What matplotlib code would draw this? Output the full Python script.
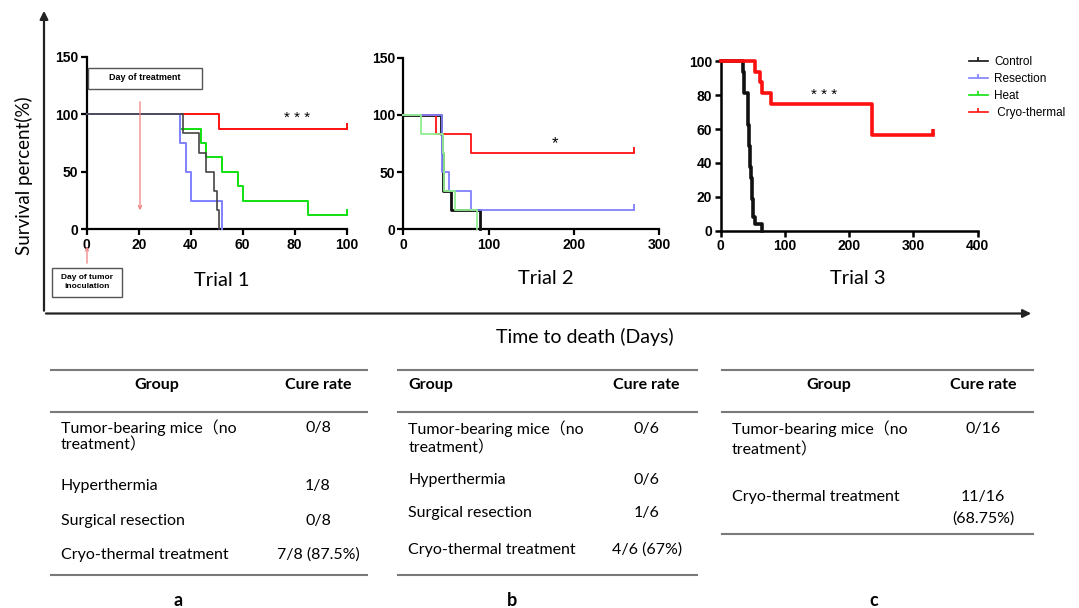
import matplotlib
matplotlib.use('Agg')
import matplotlib.pyplot as plt
from matplotlib.lines import Line2D
from matplotlib.patches import Rectangle

# ---- survival data (days, percent) ----
t1_control_days = [0, 37, 43, 46, 49, 50, 51]
t1_control_surv = [100, 83.3, 66.7, 50, 33.3, 16.7, 0]
t1_resection_days = [0, 36, 38, 40, 52]
t1_resection_surv = [100, 75, 50, 25, 0]
t1_heat_days = [0, 36, 44, 46, 52, 58, 60, 85, 100]
t1_heat_surv = [100, 87.5, 75, 62.5, 50, 37.5, 25, 12.5, 12.5]
t1_cryo_days = [0, 51, 100]
t1_cryo_surv = [100, 87.5, 87.5]

t2_control_days = [0, 44, 45, 46, 47, 56, 90]
t2_control_surv = [100, 83.3, 66.7, 50, 33.3, 16.7, 0]
t2_resection_days = [0, 45, 53, 79, 270]
t2_resection_surv = [100, 50, 33.3, 16.7, 16.7]
t2_heat_days = [0, 21, 46, 48, 61, 86]
t2_heat_surv = [100, 83.3, 66.7, 33.3, 16.7, 0]
t2_cryo_days = [0, 38, 79, 270]
t2_cryo_surv = [100, 83.3, 66.7, 66.7]

t3_control_days = [0, 34, 36, 37, 42, 42.5, 43, 44, 44.5, 45, 46, 47, 48, 49, 51, 54, 65]
t3_control_surv = [100, 93.75, 87.5, 81.25, 75, 68.75, 62.5, 56.25, 50, 43.75,
                   37.5, 31.25, 25, 18.75, 8.3, 4.2, 0]
t3_cryo_days = [0, 53, 61, 65, 78, 236, 331]
t3_cryo_surv = [100, 93.75, 87.5, 81.25, 75, 56.25, 56.25]

legend_labels = ['Control', 'Resection', 'Heat', ' Cryo-thermal']
significance = ['* * *', '*', '* * *']
trial_names = ['Trial 1', 'Trial 2', 'Trial 3']

# ---- cure-rate tables ----
groups_a = ['Tumor-bearing mice（no\ntreatment）', 'Hyperthermia', 'Surgical resection',
            'Cryo-thermal treatment']
cure_a = ['0/8', '1/8', '0/8', '7/8 (87.5%)']
groups_b = ['Tumor-bearing mice（no\ntreatment）', 'Hyperthermia', 'Surgical resection',
            'Cryo-thermal treatment']
cure_b = ['0/6', '0/6', '1/6', '4/6 (67%)']
groups_c = ['Tumor-bearing mice（no\ntreatment）', 'Cryo-thermal treatment']
cure_c = ['0/16', '11/16\n(68.75%)']
panel_letters = ['a', 'b', 'c']

C_CTRL = '#111111'
C_RES = '#8080ff'
C_HEAT = '#10e010'
C_CRYO = '#ff1010'

W, H = 1079, 608
TXT = ['Lato', 'Noto Sans CJK SC', 'DejaVu Sans']
TICKF = ['Liberation Sans', 'DejaVu Sans']


def rect(l, t, r, b):
    return [l / W, 1 - b / H, (r - l) / W, (b - t) / H]


def km(ax, days, surv, color, lw, censor=True):
    ax.step(days, surv, where='post', color=color, lw=lw, clip_on=False, zorder=3)
    if censor and surv[-1] > 0:
        ax.plot(days[-1], surv[-1], marker=2, ms=4, mew=lw, color=color,
                clip_on=False, zorder=3)


def style(ax, xmax, xstep, ymax, ystep, lw):
    ax.set_xlim(0, xmax)
    ax.set_ylim(0, ymax)
    ax.set_xticks(range(0, xmax + 1, xstep))
    ax.set_yticks(range(0, ymax + 1, ystep))
    for s in ['top', 'right']:
        ax.spines[s].set_visible(False)
    for s in ['left', 'bottom']:
        ax.spines[s].set_linewidth(lw)
    ax.tick_params(direction='out', length=4, width=lw, pad=2)
    for lab in ax.get_xticklabels() + ax.get_yticklabels():
        lab.set_fontfamily(TICKF)
        lab.set_fontweight('bold')
        lab.set_fontsize(10)
    ax.patch.set_alpha(0)


fig = plt.figure(figsize=(W / 100, H / 100), dpi=100)

ax1 = fig.add_axes(rect(86.7, 56.7, 346.7, 229.3))
ax2 = fig.add_axes(rect(403.3, 57.7, 659.3, 229.3))
ax3 = fig.add_axes(rect(720.7, 61.3, 977.7, 230.7))

km(ax1, t1_cryo_days, t1_cryo_surv, C_CRYO, 1.4)
km(ax1, t1_heat_days, t1_heat_surv, C_HEAT, 1.4)
km(ax1, t1_resection_days, t1_resection_surv, C_RES, 1.4)
km(ax1, t1_control_days, t1_control_surv, '#444444', 1.2)
style(ax1, 100, 20, 150, 50, 1.6)
ax1.text(81, 97, significance[0], ha='center', va='center', fontsize=11, family=TICKF)

km(ax2, t2_control_days, t2_control_surv, C_CTRL, 2.0)
km(ax2, t2_cryo_days, t2_cryo_surv, C_CRYO, 1.3)
km(ax2, t2_resection_days, t2_resection_surv, C_RES, 1.3)
km(ax2, t2_heat_days, t2_heat_surv, '#90ee90', 1.3)
style(ax2, 300, 100, 150, 50, 1.6)
ax2.text(178, 75, significance[1], ha='center', va='center', fontsize=12, family=TICKF)

km(ax3, t3_control_days, t3_control_surv, C_CTRL, 2.6)
km(ax3, t3_cryo_days, t3_cryo_surv, C_CRYO, 2.6)
style(ax3, 400, 100, 100, 20, 1.8)
ax3.text(161, 80, significance[2], ha='center', va='center', fontsize=11, family=TICKF)

handles = [Line2D([0], [0], color=c, lw=1.2, marker=2, ms=3, mew=1.2)
           for c in [C_CTRL, C_RES, C_HEAT, C_CRYO]]
ax3.legend(handles, legend_labels, loc='upper left', bbox_to_anchor=(963 / W, 1 - 50 / H),
           bbox_transform=fig.transFigure, frameon=False, numpoints=1,
           handlelength=1.6, handletextpad=0.55, labelspacing=0.42, borderpad=0,
           prop={'family': TICKF, 'size': 8.5})

# ---- overlay in pixel coordinates ----
ov = fig.add_axes([0, 0, 1, 1])
ov.set_xlim(0, W)
ov.set_ylim(H, 0)
ov.axis('off')

ov.annotate('', xy=(44, 8), xytext=(44, 313.5),
            arrowprops=dict(arrowstyle='-|>', color='#222222', lw=1.6, mutation_scale=12))
ov.annotate('', xy=(1034, 313.5), xytext=(43.2, 313.5),
            arrowprops=dict(arrowstyle='-|>', color='#222222', lw=1.6, mutation_scale=12))

ov.text(24, 176, 'Survival percent(%)', rotation=90, ha='center', va='center',
        fontsize=13.5, family=TXT)
ov.text(585, 337, 'Time to death (Days)', ha='center', va='center', fontsize=14, family=TXT)
for name, (x, y) in zip(trial_names, [(222, 280), (546, 278), (858, 278)]):
    ov.text(x, y, name, ha='center', va='center', fontsize=14.5, family=TXT)

# treatment / inoculation annotations
ov.add_patch(Rectangle((87.5, 67.5), 114, 21, fill=False, ec='#555555', lw=1.0))
ov.text(144.5, 78, 'Day of treatment', ha='center', va='center', fontsize=6.5,
        fontweight='bold', family=TICKF)
ov.annotate('', xy=(140, 213), xytext=(140, 99),
            arrowprops=dict(arrowstyle='->', color='#f08080', lw=0.9, mutation_scale=6))
ov.add_patch(Rectangle((52, 268), 70, 28.5, fill=False, ec='#555555', lw=1.0))
ov.text(87, 282, 'Day of tumor\ninoculation', ha='center', va='center', fontsize=6,
        fontweight='bold', family=TICKF, linespacing=1.5)
ov.annotate('', xy=(87, 244), xytext=(87, 266),
            arrowprops=dict(arrowstyle='->', color='#f08080', lw=0.9, mutation_scale=5))

# ---- tables ----
LINE_C = '#7a7a7a'
FS = 11.5


def table(x0, x1, group_x, group_ha, cure_x, groups, cures, row_y, line_gap,
          bottom, top=370, mid=412):
    ov.plot([x0, x1], [top, top], color=LINE_C, lw=1.5)
    ov.plot([x0, x1], [mid, mid], color=LINE_C, lw=1.5)
    ov.plot([x0, x1], [bottom, bottom], color=LINE_C, lw=1.5)
    ov.text(group_x, 385, 'Group', ha=group_ha, va='center', fontsize=FS,
            fontweight='bold', family=TXT)
    ov.text(cure_x, 385, 'Cure rate', ha='center', va='center', fontsize=FS,
            fontweight='bold', family=TXT)
    for g, c, y in zip(groups, cures, row_y):
        for i, line in enumerate(g.split('\n')):
            ov.text(x0 + 10, y + i * line_gap, line, ha='left', va='center',
                    fontsize=FS, family=TXT)
        for i, line in enumerate(c.split('\n')):
            ov.text(cure_x, y + i * line_gap, line, ha='center', va='center',
                    fontsize=FS, family=TXT)


table(50.7, 366.7, 156.7, 'center', 318, groups_a, cure_a, [428, 486, 520.5, 555], 17,
      575)
table(398.3, 696.7, 408.3, 'left', 646.7, groups_b, cure_b, [429, 480, 513, 550], 19,
      574.5)
table(721.7, 1033.3, 829.3, 'center', 983.3, groups_c, cure_c, [428.5, 497.5], 21,
      533.5)
for letter, x in zip(panel_letters, [178, 512, 873.5]):
    ov.text(x, 600, letter, ha='center', va='center', fontsize=13, fontweight='bold',
            family=TXT)

fig.savefig('out.png', dpi=100)
